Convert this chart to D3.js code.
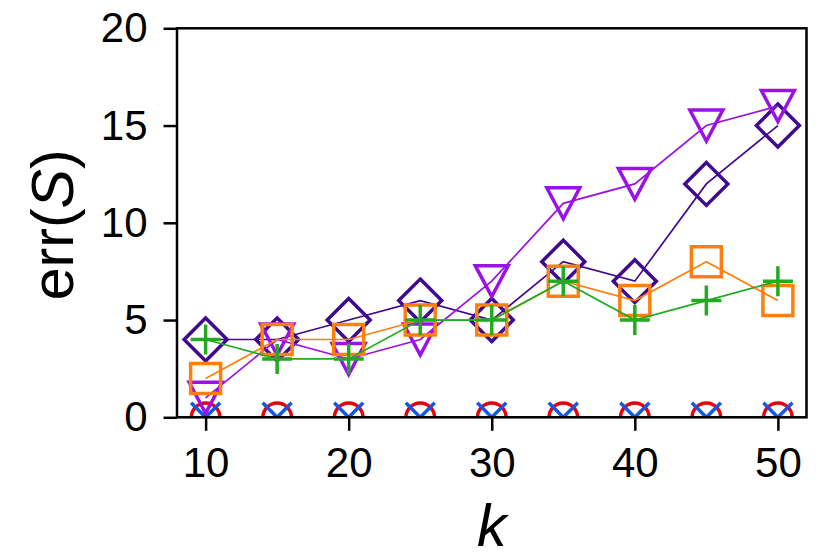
<!DOCTYPE html>
<html lang="en">
  <head>
    <meta charset="UTF-8"/>
    <title>err(S) vs k</title>
    <script src="https://d3js.org/d3.v7.min.js"></script>
    <style>
        body {
          margin: 0;
          background: #fff;
        }
        svg {
          font-family: "Liberation Sans", Arial, sans-serif;
        }
        .axis line {
          stroke: #000;
          stroke-width: 2.5;
        }
        .axis text {
          font-size: 42px;
          fill: #000;
        }
        .frame {
          fill: none;
          stroke: #000;
          stroke-width: 2.5;
        }
        .series-line {
          fill: none;
          stroke-width: 1.7;
        }
        .marker {
          fill: none;
          stroke-width: 3.5;
        }
    </style>
  </head>
  <body>
    <script>
        // values
        const ks = [10, 15, 20, 25, 30, 35, 40, 45, 50];
        const errCircle   = [0, 0, 0, 0, 0, 0, 0, 0, 0];
        const errCross    = [0, 0, 0, 0, 0, 0, 0, 0, 0];
        const errDiamond  = [4, 4, 5, 6, 5, 8, 7, 12, 15];
        const errTriangle = [1, 4, 3, 4, 7, 11, 12, 15, 16];
        const errSquare   = [2, 4, 4, 5, 5, 7, 6, 8, 6];
        const errPlus     = [4, 3, 3, 5, 5, 7, 5, 6, 7];
        const xTicks = [10, 20, 30, 40, 50];
        const yTicks = [0, 5, 10, 15, 20];

        const outerWidth = 830,
          outerHeight = 554,
          margin = {top: 28.3, right: 23.5, bottom: 136.7, left: 177},
          width = outerWidth - margin.left - margin.right,
          height = outerHeight - margin.top - margin.bottom;

        const xScale = d3.scaleLinear().domain([8, 52]).range([0, width]);
        const yScale = d3.scaleLinear().domain([0, 20]).range([height, 0]);

        // marker shapes, centred on the point
        const shapes = {
          circle: "M14.3,0A14.3,14.3 0 1,1 -14.3,0A14.3,14.3 0 1,1 14.3,0Z",
          cross: "M-14.5,-14.5L14.5,14.5M-14.5,14.5L14.5,-14.5",
          diamond: "M0,-21.5L21.5,0L0,21.5L-21.5,0Z",
          triangle: "M-16.5,-15.5L16.5,-15.5L0,15.5Z",
          square: "M-15,-15L15,-15L15,15L-15,15Z",
          plus: "M-15,0L15,0M0,-15L0,15"
        };

        const series = [
          {name: "circle", values: errCircle, color: "#e8000b"},
          {name: "cross", values: errCross, color: "#1257e6"},
          {name: "diamond", values: errDiamond, color: "#3f0a8f"},
          {name: "triangle", values: errTriangle, color: "#9a12e6"},
          {name: "square", values: errSquare, color: "#ff7f0e"},
          {name: "plus", values: errPlus, color: "#22aa22"}
        ];

        const svg = d3.select("body").append("svg")
            .attr("width", outerWidth)
            .attr("height", outerHeight)

        const g = svg.append("g")
            .attr("transform", `translate(${margin.left}, ${margin.top})`)

        g.append("clipPath")
            .attr("id", "plot-clip")
          .append("rect")
            .attr("width", width)
            .attr("height", height)

        const line = d3.line()
            .x((d, i) => xScale(ks[i]))
            .y(d => yScale(d))

        const plot = g.append("g").attr("clip-path", "url(#plot-clip)")

        series.forEach(s => {
          const sg = plot.append("g")
          sg.append("path")
              .attr("class", "series-line")
              .attr("stroke", s.color)
              .attr("d", line(s.values))
          sg.selectAll("path.marker")
            .data(s.values)
            .join("path")
              .attr("class", "marker")
              .attr("stroke", s.color)
              .attr("transform", (d, i) => `translate(${xScale(ks[i])}, ${yScale(d)})`)
              .attr("d", shapes[s.name])
        });

        // axes
        const xAxis = d3.axisBottom(xScale)
            .tickValues(xTicks)
            .tickSize(13.5)
            .tickPadding(16)
        const yAxis = d3.axisLeft(yScale)
            .tickValues(yTicks)
            .tickSize(13.5)
            .tickPadding(16)

        g.append("g")
            .attr("class", "x axis")
            .attr("transform", `translate(0, ${height})`)
            .call(xAxis)
            .call(a => a.select(".domain").remove())
            .call(a => a.selectAll("text").attr("font-family", null).attr("font-size", null))

        g.append("g")
            .attr("class", "y axis")
            .call(yAxis)
            .call(a => a.select(".domain").remove())
            .call(a => a.selectAll("text").attr("font-family", null).attr("font-size", null))

        g.append("rect")
            .attr("class", "frame")
            .attr("width", width)
            .attr("height", height)

        // axis labels
        svg.append("text")
            .attr("x", margin.left + width / 2)
            .attr("y", 546)
            .attr("text-anchor", "middle")
            .attr("font-size", 59)
            .attr("font-style", "italic")
            .text("k")

        const yLabel = svg.append("text")
            .attr("transform", `translate(73, ${margin.top + height / 2 + 2}) rotate(-90)`)
            .attr("text-anchor", "middle")
            .attr("font-size", 59)
        yLabel.append("tspan").text("err(")
        yLabel.append("tspan").attr("font-style", "italic").text("S")
        yLabel.append("tspan").text(")")
    </script>
  </body>
</html>
